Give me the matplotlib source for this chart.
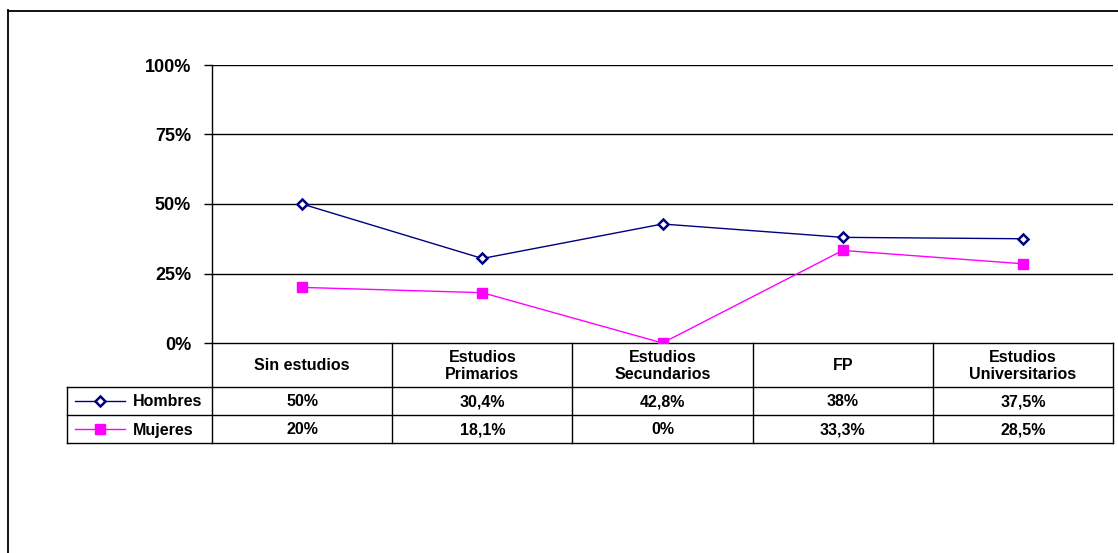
import numpy as np
import matplotlib
matplotlib.use("Agg")
import matplotlib.pyplot as plt
import matplotlib.transforms as mtrans

categories = ["Sin estudios", "Estudios\nPrimarios", "Estudios\nSecundarios", "FP", "Estudios\nUniversitarios"]
hombres = [50, 30.4, 42.8, 38, 37.5]
mujeres = [20, 18.1, 0, 33.3, 28.5]
hombres_lbl = ["50%", "30,4%", "42,8%", "38%", "37,5%"]
mujeres_lbl = ["20%", "18,1%", "0%", "33,3%", "28,5%"]
yticks = [0, 25, 50, 75, 100]

W, H = 1118, 553
plt.rcParams['font.family'] = ['Liberation Sans', 'DejaVu Sans']
plt.rcParams['font.weight'] = 'bold'

fig = plt.figure(figsize=(W / 100, H / 100), dpi=100)

# pixel-space overlay for border and table
fa = fig.add_axes([0, 0, 1, 1])
fa.set_xlim(0, W)
fa.set_ylim(H, 0)
fa.axis('off')

left, right, top, bottom = 212, 1113, 65, 343
ax = fig.add_axes([left / W, 1 - bottom / H, (right - left) / W, (bottom - top) / H])
x = np.arange(len(categories))
ax.set_xlim(-0.5, len(categories) - 0.5)
ax.set_ylim(0, 100)

for y in yticks[1:]:
    ax.axhline(y, color='black', lw=1.0, zorder=1)

ax.plot(x, hombres, color='#000080', lw=1.0, marker='D', ms=5.5, mfc='white',
        mec='#000080', mew=1.8, zorder=3)
ax.plot(x, mujeres, color='#FF00FF', lw=1.0, marker='s', ms=7, mfc='#FF00FF',
        mec='#FF00FF', zorder=3)

ax.set_yticks(yticks)
ax.set_yticklabels([f"{v}%" for v in yticks], fontsize=13, fontweight='bold')
ax.tick_params(axis='y', length=6, width=1, pad=9)
ax.set_xticks([])
for s in ['top', 'right', 'bottom']:
    ax.spines[s].set_visible(False)
ax.spines['left'].set_linewidth(1)
ax.set_facecolor('none')

# figure border
fa.plot([7.5, 7.5], [10, H], color='black', lw=1.3)
fa.plot([7.5, W], [10.5, 10.5], color='black', lw=1.3)

# data table
tr = mtrans.blended_transform_factory(ax.transData, fa.transData)
row_h, row1, row2, row3 = 343, 387, 415, 443
lab_left = 67
lk = dict(color='black', lw=1.0, clip_on=False)
xmin, xmax = -0.5, len(categories) - 0.5
fa.plot([left, right], [row_h, row_h], **lk)
for yy in [row1, row2, row3]:
    fa.plot([lab_left, right], [yy, yy], **lk)
fa.plot([lab_left, lab_left], [row1, row3], **lk)
for b in np.arange(xmin, xmax + 0.01, 1.0):
    ax.plot([b, b], [row_h, row3], transform=tr, **lk)

tk = dict(ha='center', va='center', fontsize=11.5, fontweight='bold', transform=tr,
          linespacing=1.2)
for i, c in enumerate(categories):
    ax.text(i, (row_h + row1) / 2 + 1, c, **tk)
    ax.text(i, (row1 + row2) / 2 + 1, hombres_lbl[i], **tk)
    ax.text(i, (row2 + row3) / 2 + 1, mujeres_lbl[i], **tk)

# legend keys in the table
for yy, name, col, mk, ms, mfc, mew in [((row1 + row2) / 2, "Hombres", '#000080', 'D', 5.5, 'white', 1.8),
                                        ((row2 + row3) / 2, "Mujeres", '#FF00FF', 's', 7, '#FF00FF', 1.0)]:
    fa.plot([75, 125], [yy, yy], color=col, lw=1.0)
    fa.plot([100], [yy], marker=mk, ms=ms, mfc=mfc, mec=col, mew=mew, color=col)
    fa.text(133, yy + 1, name, ha='left', va='center', fontsize=11.5, fontweight='bold')

fig.savefig("out.png", dpi=100)
